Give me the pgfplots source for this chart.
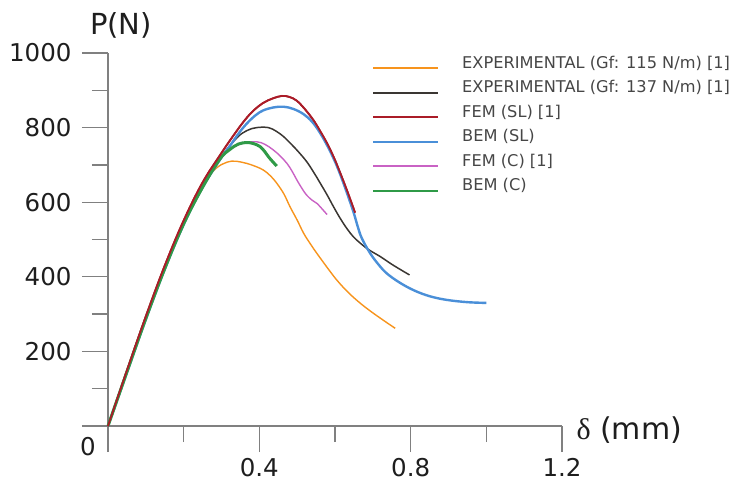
\documentclass[border=0pt]{standalone}
\usepackage{fontspec}
\setmainfont{DejaVu Sans}
\newfontfamily\seriffont{Liberation Serif}
\usepackage{pgfplots}
\usepackage{pgfplotstable}
\pgfplotsset{compat=1.18}

\definecolor{cOrange}{RGB}{247,148,29}
\definecolor{cBlack}{RGB}{58,54,50}
\definecolor{cRed}{RGB}{170,28,40}
\definecolor{cBlue}{RGB}{74,143,216}
\definecolor{cPink}{RGB}{201,98,196}
\definecolor{cGreen}{RGB}{47,154,71}
\definecolor{axgray}{RGB}{128,128,128}
\definecolor{txt}{RGB}{30,30,30}
\definecolor{legtxt}{RGB}{70,70,70}

% EXPERIMENTAL (Gf: 115 N/m)
\pgfplotstableread{
x y
0 0
0.05 146
0.1 290
0.15 425
0.2 545
0.25 643
0.275 680
0.3 701
0.327 710
0.35 708
0.367 704
0.39 696
0.411 686
0.43 670
0.446 651
0.465 622
0.481 588
0.5 552
0.517 517
0.535 488
0.552 463
0.58 424
0.605 391
0.635 358
0.667 329
0.695 307
0.72 289
0.74 275
0.759 262
}\expA

% EXPERIMENTAL (Gf: 137 N/m)
\pgfplotstableread{
x y
0 0
0.05 146
0.1 290
0.15 425
0.2 545
0.25 645
0.3 722
0.34 772
0.367 792
0.393 800
0.424 800
0.445 790
0.464 776
0.48 760
0.499 740
0.525 709
0.545 678
0.561 651
0.58 618
0.596 588
0.613 558
0.631 530
0.648 508
0.667 490
0.69 472
0.72 454
0.754 431
0.797 405
}\expB

% FEM (SL)
\pgfplotstableread{
x y
0 0
0.05 149
0.1 294
0.15 430
0.2 551
0.25 653
0.3 732
0.331 778
0.36 818
0.384 845
0.41 866
0.435 878
0.46 885
0.48 882
0.499 872
0.52 850
0.543 820
0.56 792
0.579 758
0.597 720
0.614 678
0.633 628
0.653 572
}\femSL

% BEM (SL)
\pgfplotstableread{
x y
0 0
0.05 143
0.1 286
0.15 420
0.2 540
0.25 640
0.3 720
0.323 752
0.345 784
0.367 811
0.39 833
0.41 846
0.437 854
0.464 856
0.49 850
0.517 836
0.54 815
0.561 785
0.583 745
0.605 697
0.627 638
0.649 573
0.66 535
0.671 503
0.693 463
0.715 433
0.737 409
0.77 385
0.808 364
0.85 348
0.896 338
0.95 332
1.0 330
}\bemSL

% FEM (C)
\pgfplotstableread{
x y
0 0
0.05 146
0.1 290
0.15 425
0.2 545
0.25 643
0.3 720
0.33 746
0.36 759
0.393 762
0.415 755
0.437 740
0.455 724
0.473 704
0.486 684
0.499 660
0.512 638
0.525 619
0.54 605
0.552 597
0.565 583
0.579 567
}\femC

% BEM (C)
\pgfplotstableread{
x y
0 0
0.05 145
0.1 288
0.15 422
0.2 542
0.25 640
0.296 716
0.323 742
0.345 756
0.367 760
0.385 757
0.402 749
0.414 736
0.424 722
0.435 709
0.446 697
}\bemC

\begin{document}
\begin{tikzpicture}
\useasboundingbox (-108pt,-57pt) rectangle (622pt,426pt);
\begin{axis}[
  at={(0pt,0pt)}, anchor=south west,
  scale only axis, width=454pt, height=373pt,
  xmin=0, xmax=1.2, ymin=0, ymax=1000,
  enlargelimits=false, clip=false,
  axis lines=left,
  axis line style={-, draw=axgray, line width=1.3pt},
  tick align=outside,
  major tick length=26pt, minor tick length=16pt,
  every tick/.style={draw=axgray, line width=1.3pt},
  xtick={0,0.4,0.8,1.2}, xticklabels={{},{0.4},{0.8},{1.2}},
  ytick={0,200,400,600,800,1000}, yticklabels={{},{200},{400},{600},{800},{1000}},
  minor x tick num=1, minor y tick num=1,
  tick label style={font=\fontsize{24.5}{28}\selectfont, text=txt},
  yticklabel style={xshift=-7pt},
  xticklabel style={yshift=-3pt},
  every axis plot/.append style={line width=1.6pt, smooth, tension=0.6},
  legend style={at={(axis cs:0.6984,992)}, anchor=north west,
    draw=none, fill=none, inner sep=0pt, outer sep=0pt,
    row sep=0pt, column sep=23pt,
    font=\fontsize{16.2}{19}\selectfont, text=legtxt,
    nodes={inner sep=0pt, text height=12.25pt, text depth=12.25pt, anchor=base west}},
  legend cell align=left,
  legend image code/.code={\draw[#1, line width=2pt] (0pt,0pt) -- (65pt,0pt);},
]
  \addplot[cOrange, line width=1.4pt] table[x=x,y=y] {\expA};
  \addlegendentry{EXPERIMENTAL (Gf: 115 N/m) [1]}
  \addplot[cBlack, line width=1.5pt] table[x=x,y=y] {\expB};
  \addlegendentry{EXPERIMENTAL (Gf: 137 N/m) [1]}
  \addplot[cRed, line width=1.8pt] table[x=x,y=y] {\femSL};
  \addlegendentry{FEM (SL) [1]}
  \addplot[cBlue, line width=2.4pt] table[x=x,y=y] {\bemSL};
  \addlegendentry{BEM (SL)}
  \addplot[cPink, line width=1.4pt] table[x=x,y=y] {\femC};
  \addlegendentry{FEM (C) [1]}
  \addplot[cGreen, line width=3pt] table[x=x,y=y] {\bemC};
  \addlegendentry{BEM (C)}
  \addplot[cRed, line width=1.8pt, forget plot] table[x=x,y=y] {\femSL};

  \node[font=\fontsize{24.5}{28}\selectfont, text=txt] at (axis cs:0,0) [xshift=-20pt, yshift=-21pt] {0};
  \node[font=\fontsize{29}{34}\selectfont, text=txt] at (axis cs:0,1000) [xshift=13pt, yshift=28pt] {P(N)};
  \node[font=\fontsize{30}{35}\selectfont, text=txt, anchor=west] at (axis cs:1.2,0) [xshift=11pt, yshift=-4pt] {{\seriffont δ} (mm)};
\end{axis}
\end{tikzpicture}
\end{document}
